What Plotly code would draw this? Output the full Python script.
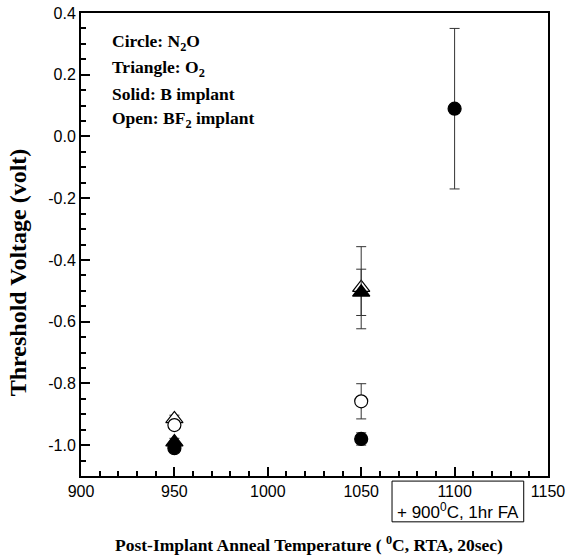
import plotly.graph_objects as go

# Data
x_solid_circle = [950, 1050, 1100]
y_solid_circle = [-1.01, -0.98, 0.09]
e_solid_circle = [0.012, 0.02, 0.26]

x_open_circle = [950, 1050]
y_open_circle = [-0.935, -0.858]
e_open_circle = [0.012, 0.057]

x_solid_tri = [950, 1050]
y_solid_tri = [-0.99, -0.505]
e_solid_tri = [0.012, 0.075]

x_open_tri = [950, 1050]
y_open_tri = [-0.915, -0.49]
e_open_tri = [0.012, 0.133]

x_tickvals = [900, 950, 1000, 1050, 1100, 1150]
x_ticktext = ["900", "950", "1000", "1050", "1100", "1150"]
y_tickvals = [0.4, 0.2, 0.0, -0.2, -0.4, -0.6, -0.8, -1.0]
y_ticktext = ["0.4", "0.2", "0.0", "-0.2", "-0.4", "-0.6", "-0.8", "-1.0"]

legend_lines = ["Circle: N<sub>2</sub>O", "Triangle: O<sub>2</sub>",
                "Solid: B implant", "Open: BF<sub>2</sub> implant"]

fig = go.Figure()

def add(x, y, e, symbol, fill, size):
    fig.add_trace(go.Scatter(
        x=x, y=y, mode="markers",
        error_y=dict(type="data", array=e, visible=True, color="#333333",
                     thickness=1, width=5),
        marker=dict(symbol=symbol, size=size, color=fill,
                    line=dict(color="black", width=1.2)),
        showlegend=False))

add(x_open_tri, y_open_tri, e_open_tri, "triangle-up", "white", 15)
add(x_solid_tri, y_solid_tri, e_solid_tri, "triangle-up", "black", 15)
add(x_open_circle, y_open_circle, e_open_circle, "circle", "white", 13)
add(x_solid_circle, y_solid_circle, e_solid_circle, "circle", "black", 13)

serif = "Liberation Serif, Times New Roman, serif"
sans = "Liberation Sans, Arial, sans-serif"

for i, t in enumerate(legend_lines):
    fig.add_annotation(x=0.062, y=0.937 - i * 0.056, xref="paper", yref="paper",
                       xanchor="left", yanchor="middle", showarrow=False,
                       text="<b>" + t + "</b>",
                       font=dict(family=serif, size=17.5, color="black"))

# y-axis title (placed as rotated text, slightly below centre as in reference)
fig.add_annotation(x=-0.135, y=0.44, xref="paper", yref="paper",
                   text="<b>Threshold Voltage (volt)</b>", textangle=-90,
                   showarrow=False, xanchor="center", yanchor="middle",
                   font=dict(family=serif, size=24, color="black"))

# x-axis title
fig.add_annotation(x=0.488, y=-0.147, xref="paper", yref="paper",
                   text="<b>Post-Implant Anneal Temperature ( <sup>0</sup>C, RTA, 20sec)</b>",
                   showarrow=False, xanchor="center", yanchor="middle",
                   font=dict(family=serif, size=17.5, color="black"))

# box below x axis
fig.add_shape(type="rect", xref="x", yref="paper", x0=1066.5, x1=1137,
              y0=-0.099, y1=-0.011, line=dict(color="black", width=1),
              fillcolor="rgba(0,0,0,0)", layer="above")
fig.add_annotation(x=1101.7, y=-0.076, xref="x", yref="paper",
                   text="+ 900<sup>0</sup>C, 1hr FA", showarrow=False,
                   xanchor="center", yanchor="middle",
                   font=dict(family=sans, size=17, color="black"))

fig.update_layout(
    width=566, height=560,
    margin=dict(l=81, r=18, t=13, b=84),
    plot_bgcolor="white", paper_bgcolor="white",
    xaxis=dict(range=[900, 1150], tickvals=x_tickvals, ticktext=x_ticktext,
               automargin=False,
               ticks="inside", ticklen=9, tickwidth=1.5, tickcolor="black",
               showline=True, linecolor="black", linewidth=2, mirror=True,
               showgrid=False, zeroline=False,
               tickfont=dict(family=sans, size=16, color="black"),
               minor=dict(ticks="inside", ticklen=5, dtick=10, tick0=900,
                          tickcolor="black", showgrid=False)),
    yaxis=dict(range=[-1.1, 0.4], tickvals=y_tickvals, ticktext=y_ticktext,
               automargin=False,
               ticks="inside", ticklen=9, tickwidth=1.5, tickcolor="black",
               showline=True, linecolor="black", linewidth=2, mirror=True,
               showgrid=False, zeroline=False,
               tickfont=dict(family=sans, size=16, color="black"),
               minor=dict(ticks="inside", ticklen=5, dtick=0.05, tick0=0,
                          tickcolor="black", showgrid=False)),
)

fig.write_html("out.html")
